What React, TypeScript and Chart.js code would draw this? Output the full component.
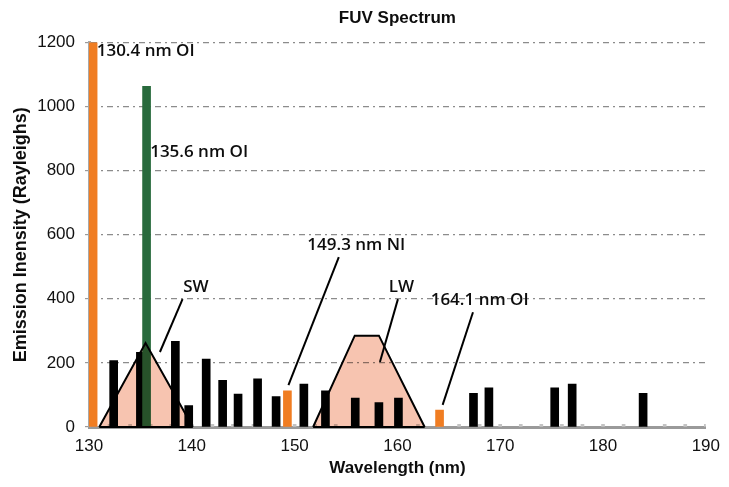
import React, { useEffect, useRef } from "react";
import { Chart, registerables } from "chart.js";

// ---------- data ----------
const xTickValues = [130, 140, 150, 160, 170, 180, 190];
const yTickValues = [0, 200, 400, 600, 800, 1000, 1200];

const blackWavelengths = [132.4, 135.0, 138.4, 139.7, 141.4, 143.0, 144.5, 146.4, 148.2, 150.9, 153.0, 155.9, 158.2, 160.1, 167.4, 168.9, 175.3, 177.0, 183.9];
const blackIntensities = [207, 233, 267, 67, 212, 146, 103, 150, 95, 134, 113, 90, 76, 90, 105, 122, 122, 134, 105];

const orangeWavelengths = [130.4, 149.3, 164.1];
const orangeIntensities = [1200, 113, 53];

const greenWavelengths = [135.6];
const greenIntensities = [1063];

const minorWavelengths = [132, 134, 136, 138, 140, 142, 144, 146, 148, 150, 152, 154, 156, 158, 160, 162, 164, 166, 168, 170, 172, 174, 176, 178, 180, 182, 184, 186, 188, 190];
const minorIntensities = [8, 8, 8, 8, 8, 8, 8, 8, 8, 8, 8, 8, 8, 8, 8, 8, 8, 8, 8, 8, 8, 8, 8, 8, 8, 8, 8, 8, 8, 8];

const swBandWavelengths = [131.0, 135.5, 140.1];
const swBandValues = [0, 262, 0];

const lwBandWavelengths = [151.8, 155.85, 158.2, 162.65];
const lwBandValues = [0, 285, 285, 0];

const bandBaseWavelengths = [131.0, 140.1, 146.0, 151.8, 162.65];
const bandBaseValues = [0, 0, null, 0, 0];

const noteLabels = ["130.4 nm OI", "135.6 nm OI", "149.3 nm NI", "164.1 nm OI", "SW", "LW"];
const noteWavelengths = [130.75, 135.95, 156.0, 168.0, 140.4, 160.4];
const noteIntensities = [1172, 857, 567, 396, 436, 436];
const noteAligns = ["left", "left", "center", "center", "center", "center"];

const leaderFromWavelengths = [139.1, 154.3, 160.05, 167.35];
const leaderFromIntensities = [399, 530, 399, 358];
const leaderToWavelengths = [136.9, 149.4, 158.3, 164.4];
const leaderToIntensities = [234, 131, 203, 69];

const toPoints = (xs: number[], ys: (number | null)[]) => xs.map((x, i) => ({ x, y: ys[i] }));

// ---------- plugins ----------
const blendPlugin = {
  id: "bandBlend",
  beforeDatasetDraw(chart: any, args: any) {
    const ds = chart.data.datasets[args.index];
    if (ds && ds.blend) {
      chart.ctx.save();
      chart.ctx.globalCompositeOperation = "multiply";
    }
  },
  afterDatasetDraw(chart: any, args: any) {
    const ds = chart.data.datasets[args.index];
    if (ds && ds.blend) chart.ctx.restore();
  },
};

const notesPlugin = {
  id: "notes",
  afterDatasetsDraw(chart: any) {
    const { ctx } = chart;
    const xs = chart.scales.x;
    const ys = chart.scales.y;
    ctx.save();
    ctx.strokeStyle = "#000";
    ctx.lineWidth = 2;
    for (let i = 0; i < leaderFromWavelengths.length; i++) {
      ctx.beginPath();
      ctx.moveTo(xs.getPixelForValue(leaderFromWavelengths[i]), ys.getPixelForValue(leaderFromIntensities[i]));
      ctx.lineTo(xs.getPixelForValue(leaderToWavelengths[i]), ys.getPixelForValue(leaderToIntensities[i]));
      ctx.stroke();
    }
    ctx.fillStyle = "#0d0d0d";
    ctx.font = "600 17px 'Open Sans', 'Liberation Sans', sans-serif";
    ctx.textBaseline = "middle";
    for (let i = 0; i < noteLabels.length; i++) {
      ctx.textAlign = noteAligns[i] as CanvasTextAlign;
      ctx.fillText(noteLabels[i], xs.getPixelForValue(noteWavelengths[i]), ys.getPixelForValue(noteIntensities[i]));
    }
    ctx.restore();
  },
};

Chart.register(blendPlugin);
Chart.register(...registerables);

export default function App() {
  const canvasRef = useRef<HTMLCanvasElement | null>(null);

  useEffect(() => {
    document.body.style.margin = "0";
    const canvas = canvasRef.current;
    if (!canvas) return;
    Chart.defaults.font.family = "'Liberation Sans', Arial, sans-serif";

    const bandStyle = {
      type: "line",
      borderColor: "#000",
      borderWidth: 2,
      backgroundColor: "rgb(247,196,176)",
      fill: "origin",
      pointRadius: 0,
      tension: 0,
      order: 0,
      clip: 5,
      blend: true,
    };

    const chart = new Chart(canvas, {
      type: "bar",
      data: {
        datasets: [
          { ...bandStyle, label: "SW", data: toPoints(swBandWavelengths, swBandValues) } as any,
          { ...bandStyle, label: "LW", data: toPoints(lwBandWavelengths, lwBandValues) } as any,
          {
            type: "line",
            label: "Band base",
            data: toPoints(bandBaseWavelengths, bandBaseValues),
            borderColor: "#000",
            borderWidth: 2,
            fill: false,
            pointRadius: 0,
            spanGaps: false,
            order: 0,
            clip: 5,
          } as any,
          {
            label: "O I 130.4 / N I / O I 164.1",
            data: toPoints(orangeWavelengths, orangeIntensities),
            backgroundColor: "#f07d22",
            barThickness: 8,
            grouped: false,
            order: 2,
          } as any,
          {
            label: "O I 135.6",
            data: toPoints(greenWavelengths, greenIntensities),
            backgroundColor: "#286a3c",
            barThickness: 8,
            grouped: false,
            order: 2,
          } as any,
          {
            label: "Other lines",
            data: toPoints(blackWavelengths, blackIntensities),
            backgroundColor: "#000",
            barThickness: 8,
            grouped: false,
            order: 3,
          } as any,
          {
            label: "Minor",
            data: toPoints(minorWavelengths, minorIntensities),
            backgroundColor: "#c4c4c4",
            barThickness: 3,
            grouped: false,
            order: 4,
          } as any,
        ],
      },
      options: {
        animation: false,
        responsive: true,
        maintainAspectRatio: false,
        layout: { padding: { left: 0, right: 14, top: 0, bottom: 0 } },
        plugins: {
          legend: { display: false },
          tooltip: { enabled: false },
          title: {
            display: true,
            fullSize: false,
            text: "FUV Spectrum",
            color: "#0d0d0d",
            font: { size: 17, weight: "bold" },
            padding: { top: 8, bottom: 14 },
          },
        },
        scales: {
          x: {
            type: "linear",
            min: 130,
            max: 190,
            offset: false,
            afterFit: (s: any) => { s.height = 60; },
            afterBuildTicks: (s: any) => { s.ticks = xTickValues.map((v) => ({ value: v })); },
            grid: { display: false, drawTicks: false, offset: false },
            border: { display: true, color: "#9a9a9a", width: 3 },
            ticks: { color: "#111", font: { size: 17 }, padding: 9, maxRotation: 0, callback: (v: any) => String(v) },
            title: {
              display: true,
              text: "Wavelength (nm)",
              color: "#0d0d0d",
              font: { size: 17, weight: "bold" },
              padding: { top: 0, bottom: 8 },
            },
          },
          y: {
            min: 0,
            max: 1200,
            afterFit: (s: any) => { s.width = 89; },
            afterBuildTicks: (s: any) => { s.ticks = yTickValues.map((v) => ({ value: v })); },
            grid: {
              color: (c: any) => (c.tick && c.tick.value === 0 ? "rgba(0,0,0,0)" : "#8c8c8c"),
              lineWidth: 1.2,
              drawTicks: true,
              tickLength: 4,
              tickColor: "#9a9a9a",
              tickBorderDash: [],
            },
            border: { display: true, color: "#a8a8a8", width: 3, dash: [6, 4, 2, 4] },
            ticks: { color: "#111", font: { size: 17 }, padding: 10, callback: (v: any) => String(v) },
            title: {
              display: true,
              text: "Emission Inensity (Rayleighs)",
              color: "#0d0d0d",
              font: { size: 18, weight: "bold" },
              padding: { top: 10, bottom: 0 },
            },
          },
        },
      } as any,
      plugins: [notesPlugin],
    });
    return () => chart.destroy();
  }, []);

  return (
    <div style={{ width: "729px", height: "487px", position: "relative" }}>
      <canvas ref={canvasRef} />
    </div>
  );
}
